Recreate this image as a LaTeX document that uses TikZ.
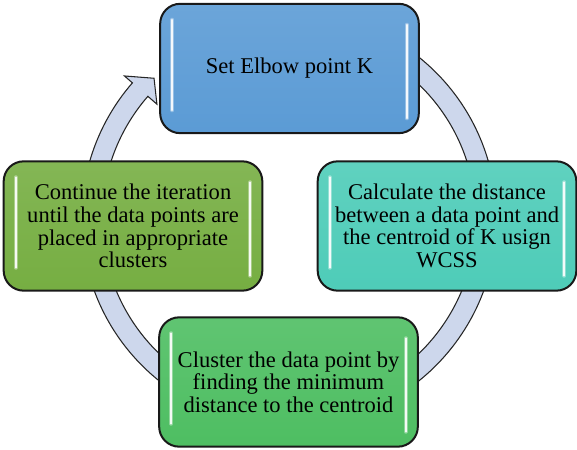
\documentclass[tikz,border=0pt]{standalone}
\usepackage{fontspec}
\setmainfont{Liberation Serif}
\usetikzlibrary{calc}
\definecolor{ringfill}{RGB}{205,215,236}
\definecolor{cblue}{RGB}{91,155,213}
\definecolor{cteal}{RGB}{78,204,184}
\definecolor{cgreen}{RGB}{78,190,98}
\definecolor{colive}{RGB}{118,174,66}
\tikzset{
  stepbox/.style={draw=black!90, line width=1.5pt, rounded corners=15pt,
    minimum width=194pt, minimum height=97pt, inner sep=0pt,
    align=center, font=\fontsize{16.9}{17}\selectfont},
  ring/.style={draw=black!85, line width=0.8pt, fill=ringfill},
  glow/.style={draw=white, line width=3.2pt, line cap=round, opacity=0.35},
  gloss/.style={draw=white, line width=1.6pt, line cap=round, opacity=0.9},
}
\newcommand{\glossy}[1]{%
  \draw[glow] ($(#1.north west)+(13,-17)$) -- ($(#1.south west)+(13,24)$);
  \draw[glow] ($(#1.north east)+(-13,-22)$) -- ($(#1.south east)+(-13,16)$);
  \draw[gloss] ($(#1.north west)+(13,-17)$) -- ($(#1.south west)+(13,24)$);
  \draw[gloss] ($(#1.north east)+(-13,-22)$) -- ($(#1.south east)+(-13,16)$);
}
\begin{document}
\begin{tikzpicture}[x=0.75pt,y=0.75pt]
\useasboundingbox (0,0) rectangle (577,449);
\coordinate (c) at (289,230);
% cycle ring with arrow head
\draw[ring] ($(c)+(100:207.5)$) arc[start angle=100,end angle=-221,radius=207.5]
  -- ($(c)+(139:218)$) -- ($(c)+(133.8:195)$) -- ($(c)+(139:175)$)
  -- ($(c)+(139:187)$) arc[start angle=-221,end angle=100,radius=187] -- cycle;
% boxes
\node[stepbox, top color=cblue!90!white, bottom color=cblue] (top) at (289.5,380.5) {Set Elbow point K};
\node[stepbox, top color=cteal!90!white, bottom color=cteal] (right) at (447,223)
  {Calculate the distance\\between a data point and\\the centroid of K usign\\WCSS};
\node[stepbox, top color=cgreen!90!white, bottom color=cgreen] (bottom) at (288.5,67)
  {Cluster the data point by\\finding the minimum\\distance to the centroid};
\node[stepbox, top color=colive!90!white, bottom color=colive] (left) at (133,223)
  {Continue the iteration\\until the data points are\\placed in appropriate\\clusters};
\glossy{top}
\glossy{right}
\glossy{bottom}
\glossy{left}
\end{tikzpicture}
\end{document}
